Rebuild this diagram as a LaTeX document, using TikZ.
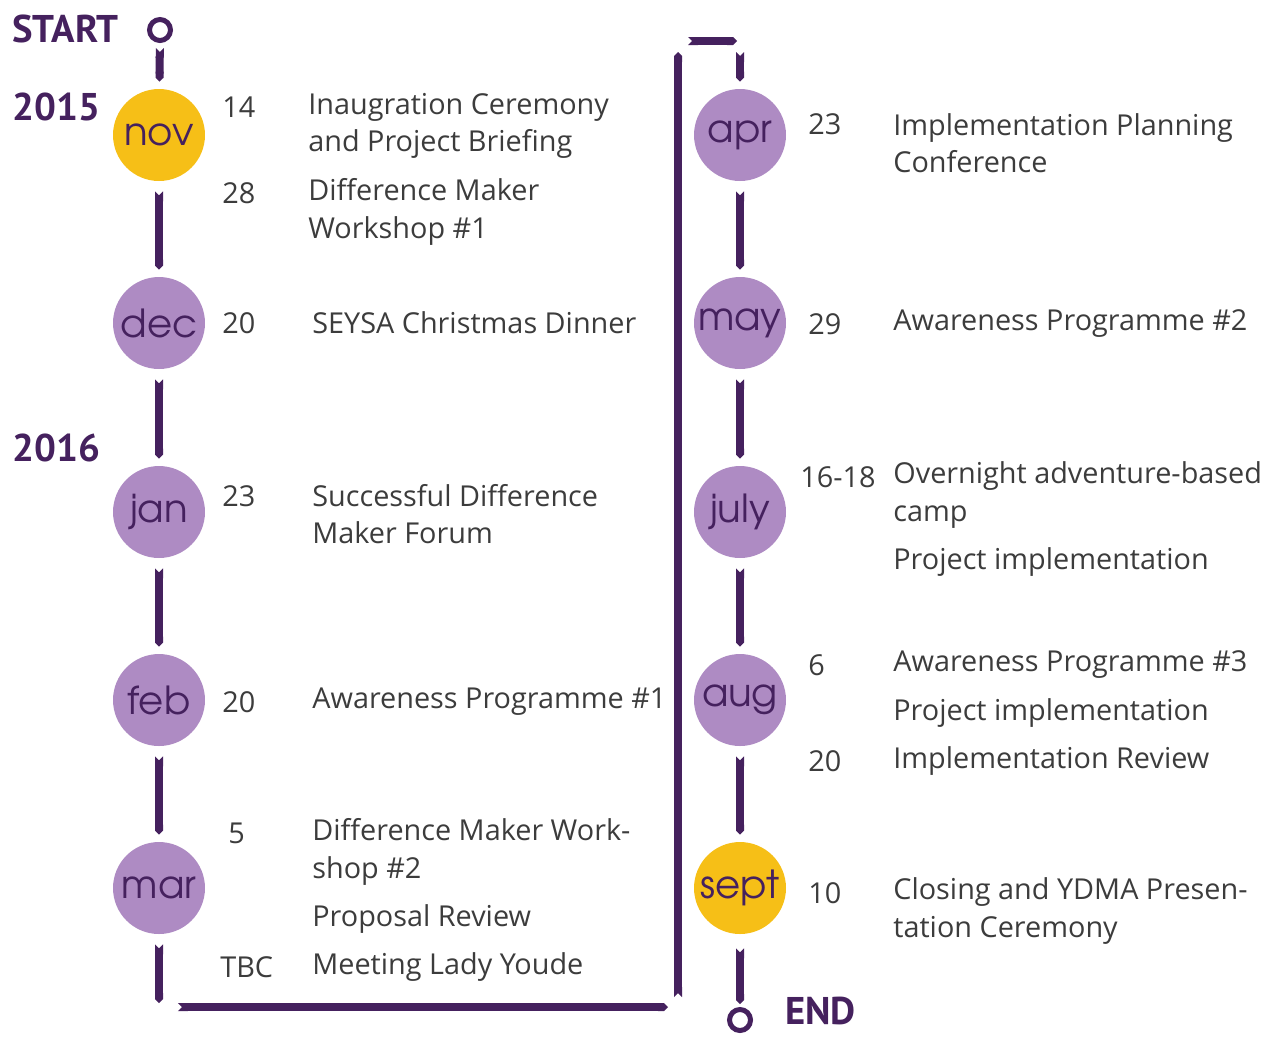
\documentclass[tikz,border=0pt]{standalone}
\usepackage{fontspec}
\setmainfont{Open Sans}
\newfontfamily\yearfont{PT Sans}
\newfontfamily\monthfont{TeX Gyre Adventor}
\usetikzlibrary{arrows.meta, positioning}
\definecolor{tlpurple}{HTML}{45215E}
\definecolor{tllilac}{HTML}{AE8BC3}
\definecolor{tlyellow}{HTML}{F6BF17}
\definecolor{tltext}{HTML}{3C3C3C}
\tikzset{%
	month/.style={
		circle,
		fill=tllilac,
		minimum size=1.84cm,
		inner sep=0pt,
		text=tlpurple,
		font=\monthfont\fontsize{22}{24}\selectfont
	},
	monthhi/.style={
		month,
		fill=tlyellow
	},
	ring/.style={
		circle,
		draw=tlpurple,
		line width=0.1cm,
		minimum size=0.42cm,
		inner sep=0pt
	},
	bar/.style={
		line width=0.16cm,
		draw=tlpurple,
		{Triangle Cap[reversed]}-{Triangle Cap},
		shorten <=0.2cm,
		shorten >=0.14cm
	},
	yearlabel/.style={
		anchor=west,
		inner sep=0pt,
		text=tlpurple,
		font=\yearfont\bfseries\fontsize{22}{26}\selectfont
	},
	evdate/.style={
		anchor=west,
		inner sep=0pt,
		text=tltext,
		font=\fontsize{16.4}{21.3}\selectfont
	},
	evtext/.style={
		evdate,
		align=left
	},
}
\begin{document}
\begin{tikzpicture}[x=0.02cm, y=-0.02cm]
	\useasboundingbox (0,0) rectangle (1283,1036);
	
	% left column
	\node[yearlabel] (startlabel) at (12,29) {START};
	\node[ring] (start) at (160,30) {};
	\node[yearlabel] (y2015) at (12,107) {2015};
	\node[yearlabel] (y2016) at (12,448) {2016};
	
	\node[monthhi] (nov) at (159,135) {nov};
	\node[month] (dec) at (159,323) {dec};
	\node[month] (jan) at (159,512) {jan};
	\node[month] (feb) at (159,700) {feb};
	\node[month] (mar) at (159,888) {mar};
	
	% right column
	\node[month] (apr) at (740,135) {apr};
	\node[month] (may) at (740,323) {may};
	\node[month] (jul) at (740,512) {july};
	\node[month] (aug) at (740,700) {aug};
	\node[monthhi] (sep) at (740,888) {sept};
	\node[ring] (end) at (740,1020) {};
	\node[yearlabel] (endlabel) at (785,1011) {END};
	
	% corners of the turn
	\coordinate (bl) at (159,1007);
	\coordinate (br) at (678,1007);
	\coordinate (tl) at (678,41);
	\coordinate (tr) at (740,41);
	
	% bars
	\draw[bar, shorten <=0.1cm] (start) -- (nov);
	\draw[bar] (nov) -- (dec);
	\draw[bar] (dec) -- (jan);
	\draw[bar] (jan) -- (feb);
	\draw[bar] (feb) -- (mar);
	\draw[bar, shorten >=0.08cm] (mar) -- (bl);
	\draw[bar, shorten <=0.38cm, shorten >=0.2cm] (bl) -- (br);
	\draw[bar, shorten >=0.22cm] (br) -- (tl);
	\draw[bar, shorten >=0.06cm] (tl) -- (tr);
	\draw[bar, shorten <=0.22cm] (tr) -- (apr);
	\draw[bar] (apr) -- (may);
	\draw[bar] (may) -- (jul);
	\draw[bar] (jul) -- (aug);
	\draw[bar] (aug) -- (sep);
	\draw[bar, shorten <=0.28cm, shorten >=0.06cm] (sep) -- (end);
	
	% left events
	\node[evdate] (nov1d) at (222,107) {14};
	\node[evtext] (nov1t) at (308,126) {Inaugration Ceremony\\and Project Briefing};
	\node[evdate] (nov2d) at (222,193) {28};
	\node[evtext] (nov2t) at (308,212) {Difference Maker\\Workshop \#1};
	\node[evdate] (dec1d) at (222,323) {20};
	\node[evtext] (dec1t) at (312,323) {SEYSA Christmas Dinner};
	\node[evdate] (jan1d) at (222,496) {23};
	\node[evtext] (jan1t) at (312,514) {Successful Difference\\Maker Forum};
	\node[evdate] (feb1d) at (222,702) {20};
	\node[evtext] (feb1t) at (312,702) {Awareness Programme \#1};
	\node[evdate] (mar1d) at (228,833) {5};
	\node[evtext] (mar1t) at (312,852) {Difference Maker Work-\\shop \#2};
	\node[evtext] (mar2t) at (312,919) {Proposal Review};
	\node[evdate] (mar3d) at (220,967) {TBC};
	\node[evtext] (mar3t) at (312,967) {Meeting Lady Youde};
	
	% right events
	\node[evdate] (apr1d) at (808,124) {23};
	\node[evtext] (apr1t) at (893,143) {Implementation Planning\\Conference};
	\node[evdate] (may1d) at (808,324) {29};
	\node[evtext] (may1t) at (893,324) {Awareness Programme \#2};
	\node[evdate] (jul1d) at (800,477) {16-18};
	\node[evtext] (jul1t) at (893,495) {Overnight adventure-based\\camp};
	\node[evtext] (jul2t) at (893,562) {Project implementation};
	\node[evdate] (aug1d) at (808,665) {6};
	\node[evtext] (aug1t) at (893,665) {Awareness Programme \#3};
	\node[evtext] (aug2t) at (893,713) {Project implementation};
	\node[evdate] (aug3d) at (808,761) {20};
	\node[evtext] (aug3t) at (893,761) {Implementation Review};
	\node[evdate] (sep1d) at (808,893) {10};
	\node[evtext] (sep1t) at (893,911) {Closing and YDMA Presen-\\tation Ceremony};
\end{tikzpicture}
\end{document}
